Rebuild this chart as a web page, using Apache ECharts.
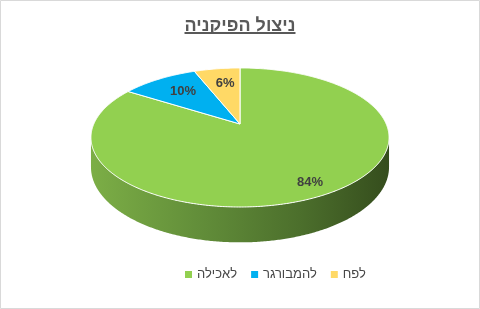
<!DOCTYPE html>
<html>
<head>
<meta charset="utf-8">
<script src="https://cdn.jsdelivr.net/npm/echarts@6/dist/echarts.min.js"></script>
<style>
html,body{margin:0;padding:0;background:#fff;}
#main{width:480px;height:309px;}
</style>
</head>
<body>
<div id="main"></div>
<script>
const titleText = 'ניצול הפיקניה';
const categories = ['לאכילה', 'להמבורגר', 'לפח'];
const values = [84, 10, 6];
const colors = ['#92d050', '#00b0f0', '#ffd966'];

const FONT = '"Liberation Sans", Arial, "DejaVu Sans", sans-serif';
const total = values.reduce((a, b) => a + b, 0);
const cumulative = values.map((v, i) => values.slice(0, i).reduce((a, b) => a + b, 0));

// 3D perspective pie geometry (layout only)
const GEO = { cy: 124, Rx: 146.2, Ry: 66.9, persp: 0.194, depth: 28.5 };

function proj(cx, th, f, h) {
  const X = f * Math.sin(th), Z = f * Math.cos(th);
  const s = 1 / (1 + GEO.persp * Z);
  return [cx + GEO.Rx * X * s, GEO.cy + (-GEO.Ry * Z + h) * s];
}

const sideGradients = {
  '#92d050': [
    { offset: 0, color: '#7cae46' },
    { offset: 0.35, color: '#638f3a' },
    { offset: 0.7, color: '#4c6f2c' },
    { offset: 1, color: '#354d1d' }
  ]
};

function renderItem(params, api) {
  const i = params.dataIndex;
  const cx = api.getWidth() / 2;
  const TWO_PI = Math.PI * 2;
  const start = cumulative[i] / total * TWO_PI;
  const end = (cumulative[i] + values[i]) / total * TWO_PI;
  const step = Math.PI / 360;
  const children = [];

  // side (visible front part)
  const thR = Math.acos(-GEO.persp);
  const thL = TWO_PI - thR;
  const lo = Math.max(start, thR), hi = Math.min(end, thL);
  if (lo < hi) {
    const pts = [];
    for (let t = lo; t < hi; t += step) pts.push(proj(cx, t, 1, 0));
    pts.push(proj(cx, hi, 1, 0));
    for (let t = hi; t > lo; t -= step) pts.push(proj(cx, t, 1, GEO.depth));
    pts.push(proj(cx, lo, 1, GEO.depth));
    const stops = sideGradients[colors[i]] || [
      { offset: 0, color: colors[i] }, { offset: 1, color: '#333333' }
    ];
    children.push({
      type: 'polygon', z2: 1,
      shape: { points: pts },
      style: { fill: new echarts.graphic.LinearGradient(0, 0, 1, 0, stops), stroke: null }
    });
  }

  // top face
  const topPts = [[cx, GEO.cy]];
  for (let t = start; t < end; t += step) topPts.push(proj(cx, t, 1, 0));
  topPts.push(proj(cx, end, 1, 0));
  children.push({
    type: 'polygon', z2: 2,
    shape: { points: topPts },
    style: { fill: colors[i], stroke: '#ffffff', lineWidth: 1, lineJoin: 'round' }
  });

  // label
  const share = values[i] / total;
  const mid = (start + end) / 2;
  const f = share > 0.5 ? 0.85 : 0.7;
  const lp = proj(cx, mid, f, 0);
  children.push({
    type: 'text', z2: 10,
    style: {
      text: Math.round(share * 100) + '%',
      x: lp[0] + (share > 0.5 ? 0 : 2), y: lp[1],
      align: 'center', verticalAlign: 'middle',
      font: 'bold 13px ' + FONT,
      fill: '#404040'
    }
  });
  return { type: 'group', children: children };
}

const chart = echarts.init(document.getElementById('main'), null, { renderer: 'canvas' });

// measure title for underline
const cv = document.createElement('canvas').getContext('2d');
cv.font = 'bold 18px ' + FONT;
const tw = cv.measureText(titleText).width;

chart.setOption({
  animation: false,
  backgroundColor: '#ffffff',
  title: {
    text: titleText,
    left: 'center',
    top: 12,
    textStyle: { fontFamily: FONT, fontSize: 18, fontWeight: 'bold', color: '#595959' }
  },
  legend: {
    data: categories,
    left: 180,
    top: 263,
    icon: 'rect',
    itemWidth: 7,
    itemHeight: 7,
    itemGap: 14,
    textStyle: { fontFamily: FONT, fontSize: 13, color: '#474747' }
  },
  graphic: [
    {
      type: 'rect', silent: true,
      shape: { x: 0.5, y: 0.5, width: 479, height: 308 },
      style: { fill: null, stroke: '#d9d9d9', lineWidth: 1 }
    },
    {
      type: 'line', silent: true,
      shape: { x1: 240 - tw / 2, y1: 33, x2: 240 + tw / 2, y2: 33 },
      style: { stroke: '#595959', lineWidth: 2 }
    }
  ],
  series: [
    {
      type: 'pie',
      name: 'legendProxy',
      center: [-1000, -1000],
      radius: 5,
      silent: true,
      label: { show: false },
      data: categories.map((n, i) => ({ name: n, value: values[i], itemStyle: { color: colors[i] } }))
    },
    {
      type: 'custom',
      coordinateSystem: 'none',
      renderItem: renderItem,
      silent: true,
      data: values.map(v => [v])
    }
  ]
});
</script>
</body>
</html>
